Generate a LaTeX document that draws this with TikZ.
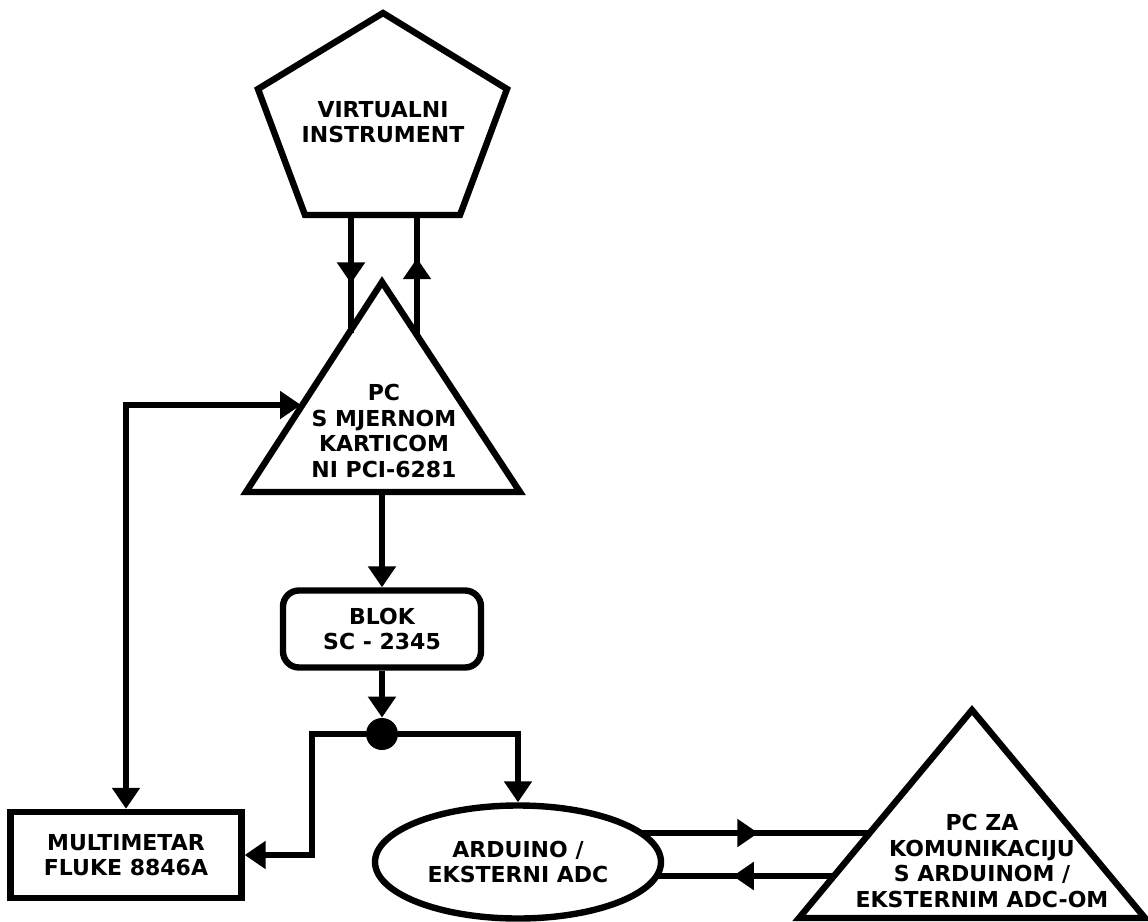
\documentclass[tikz,border=0pt]{standalone}
\usepackage{fontspec}
\setmainfont{DejaVu Sans}
\usetikzlibrary{calc}
\usetikzlibrary{positioning}
\usetikzlibrary{shapes.geometric}
\usetikzlibrary{arrows.meta,decorations.markings}
\tikzset{
	>={Triangle[width=13.5pt,length=10.5pt]},
	oblik/.style={draw=black, line width=3.2pt, line join=miter},
	tekst/.style={
		align=center,
		inner sep=0pt,
		font=\bfseries\fontsize{11}{12.8}\selectfont},
	kutija/.style={
		tekst,
		draw=black, line width=3.2pt,
		minimum width=115.5pt,
		minimum height=43pt},
	blokbox/.style={
		tekst,
		rectangle,
		rounded corners=8pt,
		draw=black, line width=3.2pt,
		minimum width=99pt,
		minimum height=38.5pt},
	elipsa/.style={
		tekst,
		ellipse,
		draw=black, line width=3.2pt,
		minimum width=143pt,
		minimum height=56.5pt},
	tocka/.style={circle, fill=black, inner sep=0pt, minimum size=16pt},
	line/.style={draw, line width=3.2pt},
	midarrow/.style={
		postaction={decorate},
		decoration={markings, mark=at position #1 with {\arrow{>}}}},
}

\begin{document}
\begin{tikzpicture}[x=0.5pt, y=-0.5pt]
	\useasboundingbox (0,0) rectangle (1148,922);

	% virtualni instrument
	\coordinate (vL) at (305,215);
	\coordinate (vR) at (460,215);
	\draw[oblik] (383,13) -- (507,89) -- (vR) -- (vL) -- (258,89) -- cycle;
	\node[tekst] (virt) at (383,122) {VIRTUALNI\\INSTRUMENT};

	% PC s karticom
	\coordinate (pcT) at (382,282);
	\coordinate (pcL) at (246,492);
	\coordinate (pcR) at (520,492);
	\draw[oblik] (pcT) -- (pcR) -- (pcL) -- cycle;
	\node[tekst] (pc) at (384,431) {PC\\S MJERNOM\\KARTICOM\\NI PCI-6281};

	\node[blokbox] (blok) at (382,629) {BLOK\\SC - 2345};
	\node[tocka] (cvor) at (382,734) {};
	\node[kutija] (multi) at (126,855) {MULTIMETAR\\FLUKE 8846A};
	\node[elipsa] (ard) at (518,862) {ARDUINO /\\EKSTERNI ADC};

	% PC za arduino
	\coordinate (adT) at (972,710);
	\coordinate (adL) at (799,918);
	\coordinate (adR) at (1145,918);
	\draw[oblik] (adT) -- (adR) -- (adL) -- cycle;
	\node[tekst] (pcadc) at (982,861) {PC ZA\\KOMUNIKACIJU\\S ARDUINOM /\\EKSTERNIM ADC-OM};

	\coordinate (dolje1) at (351,215);
	\coordinate (pcul) at (351,333);
	\coordinate (pcizl) at (417,335);
	\coordinate (gore1) at (417,215);
	\coordinate (pclijevo) at (301,405);
	\coordinate (pcbaza) at (382,492);
	\coordinate (skret) at (312,734);
	\coordinate (ardgore) at (641,833);
	\coordinate (arddolje) at (655,876);
	\coordinate (adgore) at (871,833);
	\coordinate (addolje) at (836,876);

	\path[line, midarrow=0.58] (dolje1) -- (pcul);
	\path[line, midarrow=0.64] (pcizl) -- (gore1);
	\draw[line width=3.2pt, <->] (multi.north) |- (pclijevo);
	\draw[line width=3.2pt, ->] (pcbaza) -- (blok.north);
	\draw[line width=3.2pt, ->] (blok.south) -- (cvor.north);
	\draw[line width=3.2pt, ->] (cvor) -- (skret) |- (multi.east);
	\draw[line width=3.2pt, ->] (cvor) -| (ard.north);
	\path[line, midarrow=0.51] (ardgore) -- (adgore);
	\path[line, midarrow=0.57] (addolje) -- (arddolje);
\end{tikzpicture}
\end{document}
